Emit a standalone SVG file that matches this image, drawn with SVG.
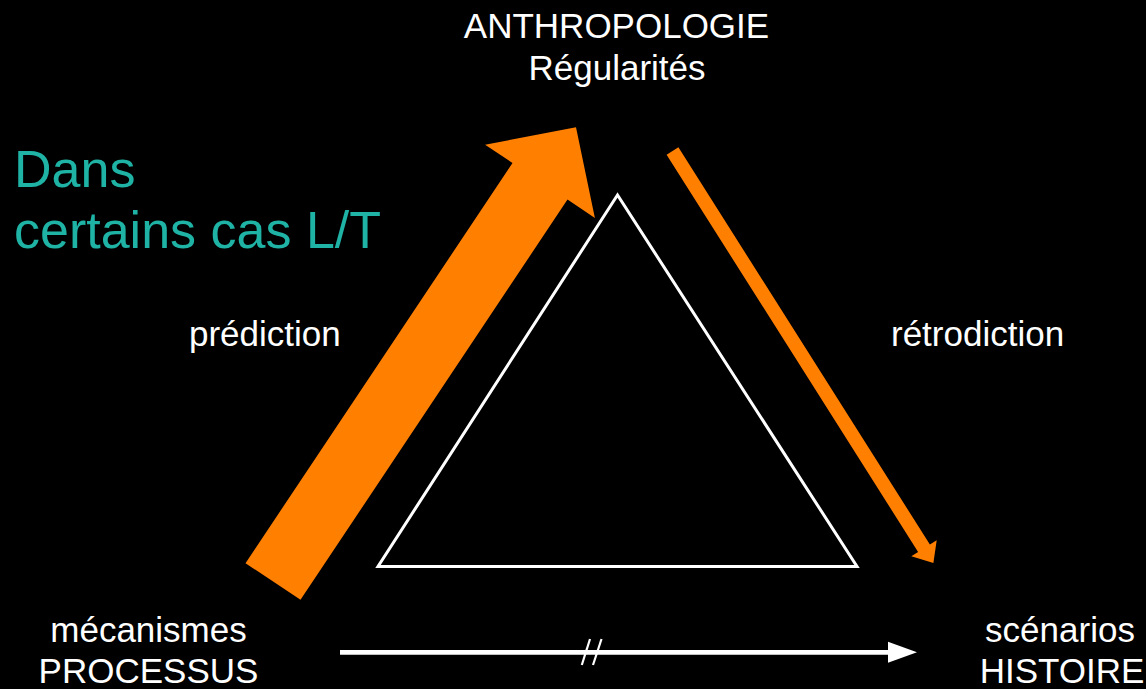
<svg xmlns="http://www.w3.org/2000/svg" width="1146" height="689" viewBox="0 0 1146 689">
<style>
.t{font-family:"Liberation Sans",Arial,Helvetica,sans-serif;font-size:35px;fill:#ffffff}
.c{text-anchor:middle}
.teal{font-family:"Liberation Sans",Arial,Helvetica,sans-serif;font-size:52px;fill:#1fb3a5}
.orange{fill:#ff7f00}
</style>
<rect x="0" y="0" width="1146" height="689" fill="#000000"/>
<g id="triangle">
<polygon points="617.5,195 378,566.5 857,566.5" fill="none" stroke="#ffffff" stroke-width="3" stroke-linejoin="miter"/>
</g>
<g id="connectors">
<polygon class="orange" points="245.5,563.2 512.5,163 485.1,144.7 576,127.2 594.9,217.9 567.5,199.6 300.5,599.8"/>
<polygon class="orange" points="666.6,154.7 678.4,147.3 929.9,544.5 936.7,540.2 933.4,563 911.3,556.2 918.1,551.9"/>
<line x1="340" y1="652.3" x2="890" y2="652.3" stroke="#ffffff" stroke-width="4.7"/>
<polygon points="888,641.8 917,652.3 888,662.8" fill="#ffffff"/>
<line x1="581.8" y1="665" x2="590" y2="639" stroke="#ffffff" stroke-width="2.2"/>
<line x1="593" y1="665" x2="601.5" y2="639" stroke="#ffffff" stroke-width="2.2"/>
</g>
<g id="node-anthropologie">
<text class="t c" x="616.5" y="38">ANTHROPOLOGIE</text>
<text class="t c" x="617" y="80">Régularités</text>
</g>
<g id="node-processus">
<text class="t c" x="148.5" y="642">mécanismes</text>
<text class="t c" x="148.5" y="683">PROCESSUS</text>
</g>
<g id="node-histoire">
<text class="t c" x="1060" y="642">scénarios</text>
<text class="t c" x="1062" y="683">HISTOIRE</text>
</g>
<g id="label-prediction">
<text class="t" x="189" y="346">prédiction</text>
</g>
<g id="label-retrodiction">
<text class="t" x="891" y="346">rétrodiction</text>
</g>
<g id="note">
<text class="teal" x="14" y="187">Dans</text>
<text class="teal" x="14" y="248">certains cas L/T</text>
</g>
</svg>
